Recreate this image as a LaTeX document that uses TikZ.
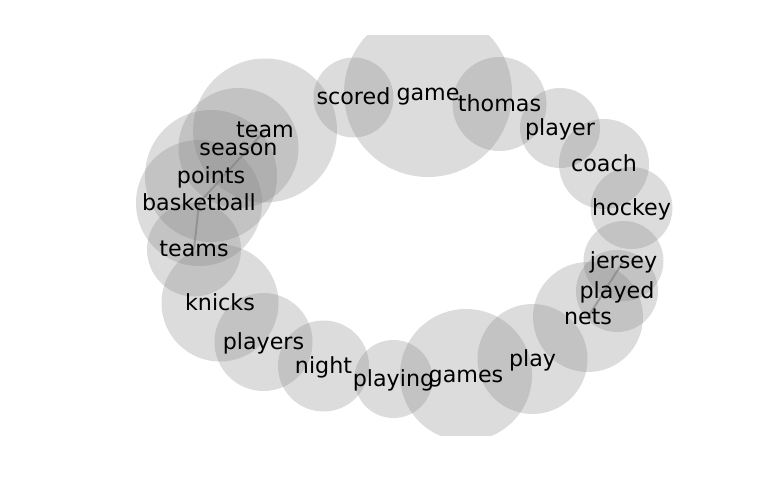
\documentclass[tikz,border=0pt]{standalone}
\usepackage{fontspec}
\setmainfont{DejaVu Sans}
\pgfdeclarelayer{bg}
\pgfsetlayers{bg,main}

\tikzset{
    word/.style={font=\fontsize{22.2bp}{26bp}\selectfont, inner sep=0pt,
        text height=19.6bp, text depth=4.9bp},
    bubble/.style={fill=gray, fill opacity=0.27},
    link/.style={draw=gray, line width=2bp, opacity=0.6}
}

\begin{document}
\begin{tikzpicture}[x=1bp,y=-1bp]
    \useasboundingbox (0,0) rectangle (768,500);

    % Words round the top
    \node[word] (scored) at (353.5,97.5) {scored};
    \node[word] (game) at (428,93) {game};
    \node[word] (thomas) at (499.5,104) {thomas};
    \node[word] (player) at (560,128) {player};
    \node[word] (coach) at (604,164) {coach};

    % Right side
    \node[word] (hockey) at (631.5,208) {hockey};
    \node[word] (jersey) at (623.5,261) {jersey};
    \node[word] (played) at (617,291) {played};
    \node[word] (nets) at (588,317) {nets};

    % Bottom
    \node[word] (play) at (532.5,359) {play};
    \node[word] (games) at (466,375) {games};
    \node[word] (playing) at (393.5,379) {playing};
    \node[word] (night) at (323.5,366) {night};
    \node[word] (players) at (263.5,342) {players};
    \node[word] (knicks) at (220,303) {knicks};

    % Left side
    \node[word] (teams) at (194,249.5) {teams};
    \node[word] (basketball) at (199,203) {basketball};
    \node[word] (points) at (211,176) {points};
    \node[word] (season) at (238.5,148) {season};
    \node[word] (team) at (265,130.5) {team};

    \begin{pgfonlayer}{bg}
        \fill[white] (0,0) rectangle (768,500);

        % Bubbles behind the words
        \begin{scope}
            \clip (96,36) rectangle (691,435);
            \fill[bubble] (scored) circle[radius=40bp];
            \fill[bubble] (game) circle[radius=84bp];
            \fill[bubble] (thomas) circle[radius=47bp];
            \fill[bubble] (player) circle[radius=40bp];
            \fill[bubble] (coach) circle[radius=45bp];
            \fill[bubble] (hockey) circle[radius=41bp];
            \fill[bubble] (jersey) circle[radius=40bp];
            \fill[bubble] (played) circle[radius=41bp];
            \fill[bubble] (nets) circle[radius=55bp];
            \fill[bubble] (play) circle[radius=55bp];
            \fill[bubble] (games) circle[radius=66bp];
            \fill[bubble] (playing) circle[radius=39bp];
            \fill[bubble] (night) circle[radius=45.5bp];
            \fill[bubble] (players) circle[radius=49bp];
            \fill[bubble] (knicks) circle[radius=58.5bp];
            \fill[bubble] (teams) circle[radius=47bp];
            \fill[bubble] (basketball) circle[radius=63bp];
            \fill[bubble] (points) circle[radius=66bp];
            \fill[bubble] (season) circle[radius=60bp];
            \fill[bubble] (team) circle[radius=72bp];
        \end{scope}

        % Links
        \draw[link] (team.center) -- (basketball.center) -- (teams.center);
        \draw[link] (jersey.center) -- (nets.center);
    \end{pgfonlayer}
\end{tikzpicture}
\end{document}
